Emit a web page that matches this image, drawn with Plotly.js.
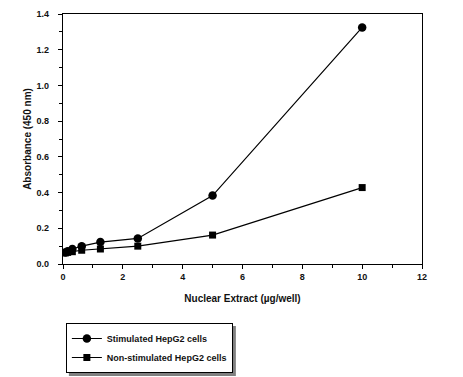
<!DOCTYPE html>
<html><head><meta charset="utf-8">
<script src="https://cdn.plot.ly/plotly-3.0.1.min.js"></script>
<style>html,body{margin:0;padding:0;background:#fff}#chart{width:463px;height:377px}</style>
</head><body><div id="chart"></div>
<script>
const extract = [0.078, 0.156, 0.3125, 0.625, 1.25, 2.5, 5, 10];
const stimulated = [0.065, 0.072, 0.084, 0.100, 0.123, 0.143, 0.383, 1.325];
const nonStimulated = [0.062, 0.065, 0.069, 0.077, 0.084, 0.100, 0.162, 0.428];
const seriesNames = ['Stimulated HepG2 cells', 'Non-stimulated HepG2 cells'];

const F = 'Liberation Sans, Arial, sans-serif';
const traces = [
  {x: extract, y: stimulated, name: seriesNames[0], mode: 'lines+markers',
   line: {color: '#000', width: 1.2}, marker: {symbol: 'circle', size: 8.5, color: '#000'}},
  {x: extract, y: nonStimulated, name: seriesNames[1], mode: 'lines+markers',
   line: {color: '#000', width: 1.2}, marker: {symbol: 'square', size: 7, color: '#000'}}
];
const axisCommon = {
  showgrid: false, zeroline: false, showline: true, linecolor: '#000', linewidth: 1.3,
  mirror: true, ticks: 'outside', ticklen: 4, tickwidth: 1, tickcolor: '#000',
  tickfont: {family: F, size: 9, color: '#111', weight: 'bold'}
};
const layout = {
  width: 463, height: 377,
  margin: {l: 63, r: 41, t: 14, b: 113, autoexpand: false},
  paper_bgcolor: '#fff', plot_bgcolor: '#fff',
  xaxis: Object.assign({}, axisCommon, {
    range: [0, 12], dtick: 2, tick0: 0,
    minor: {ticks: 'outside', ticklen: 3, dtick: 1, tickcolor: '#000', tickwidth: 1},
    title: {text: 'Nuclear Extract (µg/well)', standoff: 14,
            font: {family: F, size: 10, color: '#111', weight: 'bold'}}
  }),
  yaxis: Object.assign({}, axisCommon, {
    range: [0, 1.4], dtick: 0.2, tick0: 0, tickformat: '.1f', ticklabelstandoff: 7,
    minor: {ticks: 'outside', ticklen: 3, dtick: 0.1, tickcolor: '#000', tickwidth: 1},
    title: {text: 'Absorbance (450 nm)', standoff: 3,
            font: {family: F, size: 10, color: '#111', weight: 'bold'}}
  }),
  showlegend: true,
  legend: {
    x: 0.008, y: -0.236, xanchor: 'left', yanchor: 'top',
    bgcolor: '#fff', bordercolor: '#000', borderwidth: 1,
    font: {family: F, size: 9, color: '#111', weight: 'bold'},
    itemwidth: 30, tracegroupgap: 0
  }
};
const gd = document.getElementById('chart');
Plotly.newPlot(gd, traces, layout, {displayModeBar: false, staticPlot: true}).then(() => {
  // drop shadow behind the legend box, sized from the legend Plotly laid out
  const L = gd._fullLayout.legend;
  const pw = 359, ph = 250, off = 3;
  const topPx = (-layout.legend.y) * ph;
  Plotly.relayout(gd, {shapes: [{
    type: 'rect', xref: 'paper', yref: 'paper', layer: 'below',
    x0: (layout.legend.x * pw + off) / pw, x1: (layout.legend.x * pw + L._width + off) / pw,
    y0: -(topPx + L._height + off) / ph, y1: -(topPx + off) / ph,
    fillcolor: '#808080', line: {width: 0}
  }]});
});
</script>
</body></html>
